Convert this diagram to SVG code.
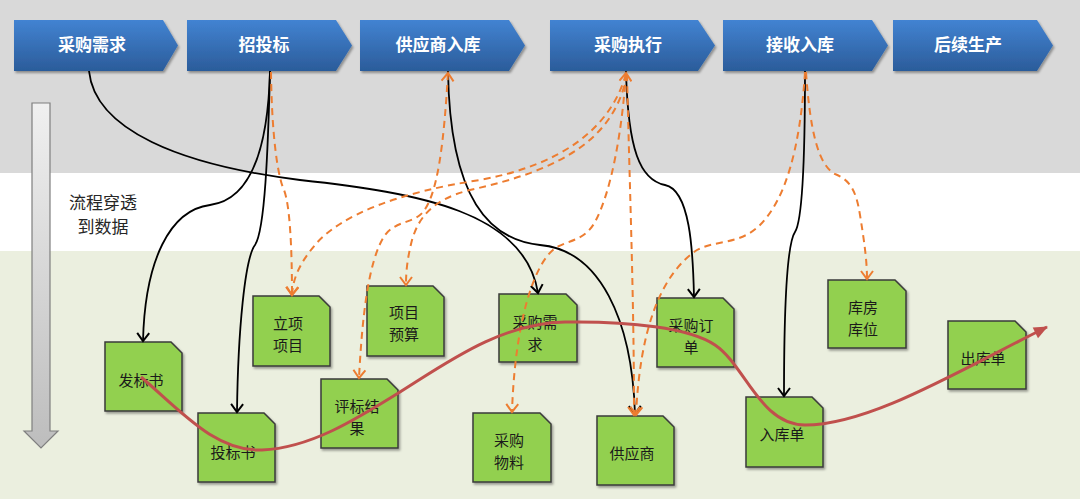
<svg xmlns="http://www.w3.org/2000/svg" width="1080" height="499" viewBox="0 0 1080 499">
<defs>
<linearGradient id="chev" x1="0" y1="0" x2="0" y2="1"><stop offset="0" stop-color="#4283d2"/><stop offset="1" stop-color="#2b5c9a"/></linearGradient>
<linearGradient id="garrow" x1="0" y1="0" x2="0" y2="1"><stop offset="0" stop-color="#f0f0f0"/><stop offset="1" stop-color="#bdbdbd"/></linearGradient>
<filter id="sh" x="-10%" y="-10%" width="130%" height="130%"><feDropShadow dx="1.5" dy="2" stdDeviation="1.2" flood-color="#000" flood-opacity="0.35"/></filter>
<marker id="ab" markerUnits="userSpaceOnUse" markerWidth="14" markerHeight="14" viewBox="0 0 14 14" refX="12" refY="7" orient="auto"><path d="M4,1 L12,7 L4,13" fill="none" stroke="#000" stroke-width="2"/></marker>
<marker id="ao" markerUnits="userSpaceOnUse" markerWidth="14" markerHeight="14" viewBox="0 0 14 14" refX="12" refY="7" orient="auto-start-reverse"><path d="M4,1 L12,7 L4,13" fill="none" stroke="#ed7d31" stroke-width="2"/></marker>
<marker id="ar" markerUnits="userSpaceOnUse" markerWidth="16" markerHeight="16" viewBox="0 0 16 16" refX="14" refY="8" orient="auto"><path d="M1,2 L15,8 L1,14 Z" fill="#c0504d"/></marker>
</defs>
<style>
.chev{fill:url(#chev);filter:url(#sh)}
.ct{font-family:"Noto Sans CJK SC","Noto Sans",sans-serif;font-size:17px;font-weight:bold;fill:#fff;text-anchor:middle}
.node{fill:#92d050;stroke:#3a3a3a;stroke-width:1.5;filter:url(#sh)}
.nt{font-family:"Noto Sans CJK SC","Noto Sans",sans-serif;font-size:15px;fill:#1a1a1a;text-anchor:middle}
.blk{fill:none;stroke:#000;stroke-width:1.8;marker-end:url(#ab)}
.org{fill:none;stroke:#ed7d31;stroke-width:2;stroke-dasharray:7 5;marker-end:url(#ao)}
.red{fill:none;stroke:#c0504d;stroke-width:3;marker-end:url(#ar)}
</style>
<rect x="0" y="0" width="1080" height="173" fill="#d9d9d9"/>
<rect x="0" y="173" width="1080" height="78" fill="#ffffff"/>
<rect x="0" y="251" width="1080" height="248" fill="#ebefdf"/>
<g id="flow-arrow">
<path d="M32,103 L50,103 L50,431 L58,431 L41,448 L24,431 L32,431 Z" fill="url(#garrow)" stroke="#7f7f7f" stroke-width="1.2"/>
<text x="103" y="209" font-family="'Noto Sans CJK SC','Noto Sans',sans-serif" font-size="17" fill="#262626" text-anchor="middle">流程穿透</text>
<text x="103" y="233" font-family="'Noto Sans CJK SC','Noto Sans',sans-serif" font-size="17" fill="#262626" text-anchor="middle">到数据</text>
</g>
<g id="stage-1"><polygon class="chev" points="14,20 163,20 178,45.5 163,71 14,71"/><text class="ct" x="92" y="51">采购需求</text></g>
<g id="stage-2"><polygon class="chev" points="187,20 336,20 352,45.5 336,71 187,71"/><text class="ct" x="264" y="51">招投标</text></g>
<g id="stage-3"><polygon class="chev" points="360,20 509,20 525,45.5 509,71 360,71"/><text class="ct" x="438" y="51">供应商入库</text></g>
<g id="stage-4"><polygon class="chev" points="550,20 698,20 715,45.5 698,71 550,71"/><text class="ct" x="628" y="51">采购执行</text></g>
<g id="stage-5"><polygon class="chev" points="723,20 872,20 888,45.5 872,71 723,71"/><text class="ct" x="800" y="51">接收入库</text></g>
<g id="stage-6"><polygon class="chev" points="893,20 1037,20 1053,45.5 1037,71 893,71"/><text class="ct" x="968" y="51">后续生产</text></g>

<g id="n-fabiaoshu"><polygon class="node" points="105,342 171,342 182,353 182,411 105,411"/><text class="nt" x="141" y="386">发标书</text></g>
<g id="n-toubiaoshu"><polygon class="node" points="198,413 264,413 275,424 275,482 198,482"/><text class="nt" x="233" y="458">投标书</text></g>
<g id="n-lixiang"><polygon class="node" points="253,296 319,296 330,307 330,366 253,366"/><text class="nt" x="288" y="329">立项</text><text class="nt" x="288" y="351">项目</text></g>
<g id="n-yusuan"><polygon class="node" points="367,286 433,286 444,297 444,356 367,356"/><text class="nt" x="404" y="318">项目</text><text class="nt" x="404" y="340">预算</text></g>
<g id="n-pingbiao"><polygon class="node" points="321,379 387,379 398,390 398,448 321,448"/><text class="nt" x="357" y="412">评标结</text><text class="nt" x="357" y="434">果</text></g>
<g id="n-xuqiu"><polygon class="node" points="499,294 566,294 577,305 577,362 499,362"/><text class="nt" x="535" y="328">采购需</text><text class="nt" x="535" y="350">求</text></g>
<g id="n-wuliao"><polygon class="node" points="473,413 540,413 551,424 551,482 473,482"/><text class="nt" x="509" y="446">采购</text><text class="nt" x="509" y="468">物料</text></g>
<g id="n-gongyingshang"><polygon class="node" points="597,416 663,416 674,427 674,485 597,485"/><text class="nt" x="632" y="459">供应商</text></g>
<g id="n-dingdan"><polygon class="node" points="657,298 723,298 734,309 734,367 657,367"/><text class="nt" x="691" y="331">采购订</text><text class="nt" x="691" y="353">单</text></g>
<g id="n-kufang"><polygon class="node" points="828,280 895,280 906,291 906,348 828,348"/><text class="nt" x="863" y="313">库房</text><text class="nt" x="863" y="335">库位</text></g>
<g id="n-rukudan"><polygon class="node" points="746,397 812,397 823,408 823,467 746,467"/><text class="nt" x="782" y="440">入库单</text></g>
<g id="n-chukudan"><polygon class="node" points="948,321 1015,321 1026,332 1026,389 948,389"/><text class="nt" x="983" y="364">出库单</text></g>

<g id="connectors">
<path class="blk" d="M89,71 C95,130 180,165 300,180 C420,193 525,212 538,293"/>
<path class="blk" d="M270,71 C268,150 250,200 210,205 C170,210 145,260 143,341"/>
<path class="blk" d="M270,71 C268,150 265,230 255,245 C245,258 238,330 237,412"/>
<path class="blk" d="M448,71 C450,200 490,240 540,245 C600,250 632,320 635,414"/>
<path class="blk" d="M626,71 C628,150 640,180 665,185 C690,190 693,250 694,297"/>
<path class="blk" d="M805,71 C805,150 803,220 795,232 C786,245 784,330 784,396"/>

<path class="org" d="M271,72 C272,150 280,182 284,190 C290,205 292,250 292,295"/>
<path class="org" d="M626,74 C610,130 560,165 480,180 C400,192 340,215 315,245 C298,265 293,280 292,295"/>
<path class="org" d="M627,74 C615,140 560,170 470,190 C430,200 418,220 412,240 C407,260 406,272 406,285"/>
<path class="org" style="marker-start:url(#ao)" d="M448,73 C444,140 438,200 420,215 C410,223 395,222 385,235 C368,260 362,320 359,378"/>
<path class="org" style="marker-start:url(#ao)" d="M626,73 C622,130 612,190 595,222 C585,240 570,240 557,247 C535,260 515,320 512,412"/>
<path class="org" d="M627,74 C630,200 634,300 634,415"/>
<path class="org" d="M805,72 C800,150 785,200 760,225 C740,245 715,240 697,250 C660,275 640,330 636,415"/>
<path class="org" d="M806,72 C810,130 818,165 835,174 C850,180 856,190 860,215 C864,240 867,260 867,279"/>

<path class="red" d="M141,377 C180,410 215,452 262,450 C310,448 355,420 400,392 C445,364 500,323 565,322 C630,321 690,328 715,345 C745,365 760,425 805,425 C870,425 960,370 1047,327"/>
</g>
</svg>
